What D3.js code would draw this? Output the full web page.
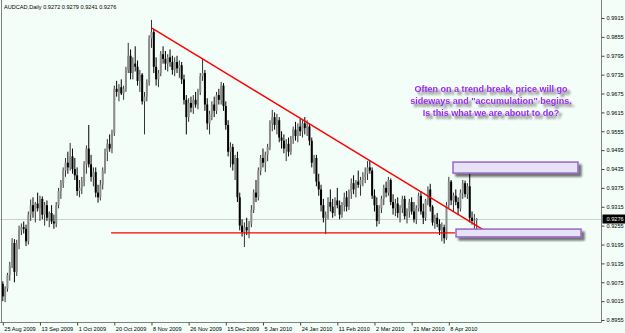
<!DOCTYPE html>
<html><head><meta charset="utf-8">
<script src="https://cdn.jsdelivr.net/npm/d3@7/dist/d3.min.js"></script>
<style>
html,body{margin:0;padding:0;background:#F4FEF9;}
svg{display:block;}
text{font-family:"Liberation Sans",Arial,sans-serif;}
</style></head>
<body>
<svg id="chart" width="625" height="333"></svg>
<script>
// ---- data (AUDCAD daily bars, index 0 = 25 Aug 2009) ----
const opens = [.9070,.9030,.9055,.9098,.9130,.9200,.9108,.9195,.9240,.9250,.9245,.9205,.9290,.9320,.9300,.9325,.9310,.9340,.9290,.9320,
.9280,.9295,.9268,.9262,.9320,.9365,.9390,.9430,.9455,.9440,.9475,.9435,.9415,.9365,.9375,.9395,.9450,.9500,.9450,.9410,
.9425,.9360,.9345,.9385,.9430,.9490,.9515,.9500,.9550,.9690,.9680,.9695,.9675,.9690,.9750,.9795,.9740,.9770,.9760,.9715,
.9735,.9650,.9665,.9710,.9850,.9870,.9760,.9720,.9740,.9800,.9785,.9770,.9790,.9775,.9750,.9775,.9755,.9765,.9720,.9655,
.9600,.9645,.9630,.9655,.9640,.9680,.9730,.9740,.9640,.9580,.9610,.9640,.9620,.9670,.9655,.9700,.9635,.9575,.9490,.9505,
.9450,.9470,.9345,.9255,.9235,.9250,.9240,.9262,.9305,.9360,.9345,.9430,.9470,.9455,.9480,.9505,.9580,.9600,.9575,.9590,
.9535,.9525,.9500,.9515,.9490,.9530,.9560,.9540,.9570,.9555,.9580,.9565,.9570,.9525,.9455,.9470,.9395,.9370,.9320,.9280,
.9290,.9330,.9315,.9295,.9335,.9320,.9290,.9320,.9345,.9315,.9360,.9390,.9370,.9395,.9385,.9400,.9410,.9420,.9440,.9430,
.9350,.9320,.9270,.9310,.9340,.9375,.9360,.9400,.9330,.9310,.9325,.9295,.9310,.9340,.9285,.9300,.9330,.9300,.9275,.9310,
.9350,.9300,.9280,.9335,.9370,.9315,.9265,.9280,.9260,.9240,.9250,.9215,.9320,.9395,.9335,.9350,.9330,.9310,.9360,.9390,
.9355,.9380,.9280,.9270,.9272];
const highs = [.9078,.9062,.9105,.9140,.9215,.9212,.9210,.9255,.9262,.9268,.9258,.9300,.9338,.9345,.9330,.9360,.9350,.9348,.9330,.9335,
.9300,.9320,.9290,.9330,.9375,.9400,.9440,.9470,.9490,.9518,.9500,.9470,.9440,.9400,.9410,.9460,.9510,.9575,.9480,.9440,
.9440,.9385,.9400,.9440,.9500,.9530,.9545,.9560,.9700,.9715,.9705,.9720,.9700,.9760,.9836,.9815,.9790,.9825,.9780,.9750,
.9740,.9680,.9720,.9860,.9909,.9880,.9790,.9750,.9810,.9825,.9810,.9800,.9815,.9795,.9790,.9795,.9780,.9775,.9735,.9670,
.9660,.9665,.9670,.9680,.9690,.9740,.9785,.9750,.9660,.9620,.9650,.9665,.9680,.9690,.9712,.9708,.9650,.9590,.9520,.9515,
.9480,.9490,.9360,.9275,.9265,.9280,.9270,.9320,.9370,.9400,.9440,.9480,.9500,.9490,.9515,.9590,.9623,.9615,.9610,.9600,
.9555,.9545,.9530,.9535,.9540,.9570,.9585,.9580,.9595,.9590,.9600,.9590,.9580,.9535,.9480,.9480,.9420,.9385,.9340,.9300,
.9345,.9370,.9340,.9345,.9375,.9335,.9330,.9360,.9365,.9370,.9405,.9415,.9400,.9430,.9410,.9425,.9440,.9460,.9462,.9440,
.9370,.9345,.9320,.9350,.9385,.9395,.9410,.9405,.9355,.9340,.9345,.9320,.9350,.9350,.9310,.9340,.9345,.9330,.9320,.9360,
.9365,.9325,.9340,.9380,.9388,.9320,.9290,.9295,.9275,.9265,.9258,.9330,.9410,.9400,.9360,.9370,.9345,.9370,.9400,.9398,
.9390,.9425,.9300,.9292,.9279];
const lows = [.9015,.9012,.9045,.9080,.9120,.9075,.9095,.9180,.9225,.9230,.9190,.9195,.9270,.9280,.9265,.9300,.9270,.9275,.9255,.9270,
.9250,.9260,.9245,.9250,.9310,.9340,.9375,.9410,.9420,.9430,.9420,.9400,.9350,.9345,.9355,.9380,.9420,.9440,.9395,.9380,
.9345,.9328,.9335,.9370,.9420,.9460,.9490,.9485,.9540,.9665,.9650,.9670,.9655,.9680,.9740,.9720,.9720,.9745,.9700,.9680,
.9640,.9545,.9650,.9700,.9820,.9740,.9700,.9695,.9730,.9770,.9750,.9745,.9760,.9735,.9730,.9740,.9725,.9705,.9640,.9545,
.9585,.9615,.9610,.9630,.9625,.9670,.9715,.9620,.9560,.9545,.9590,.9600,.9610,.9640,.9640,.9620,.9560,.9475,.9440,.9430,
.9400,.9330,.9240,.9220,.9187,.9225,.9215,.9250,.9295,.9330,.9335,.9415,.9440,.9425,.9460,.9495,.9555,.9560,.9545,.9520,
.9500,.9485,.9460,.9475,.9480,.9515,.9525,.9520,.9540,.9535,.9545,.9540,.9510,.9440,.9420,.9380,.9350,.9300,.9265,.9228,
.9275,.9300,.9280,.9285,.9310,.9275,.9280,.9300,.9300,.9305,.9340,.9355,.9345,.9375,.9350,.9380,.9390,.9400,.9420,.9340,
.9300,.9252,.9260,.9295,.9320,.9345,.9350,.9320,.9290,.9285,.9280,.9265,.9295,.9275,.9262,.9280,.9290,.9265,.9260,.9300,
.9290,.9260,.9270,.9320,.9300,.9255,.9245,.9250,.9225,.9205,.9198,.9210,.9310,.9320,.9300,.9320,.9290,.9300,.9340,.9345,
.9340,.9265,.9258,.9245,.9241];
const closes = [.9030,.9055,.9098,.9130,.9200,.9108,.9195,.9240,.9250,.9245,.9205,.9290,.9320,.9300,.9325,.9310,.9340,.9290,.9320,.9280,
.9295,.9268,.9262,.9320,.9365,.9390,.9430,.9455,.9440,.9475,.9435,.9415,.9365,.9375,.9395,.9450,.9500,.9450,.9410,.9425,
.9360,.9345,.9385,.9430,.9490,.9515,.9500,.9550,.9690,.9680,.9695,.9675,.9690,.9750,.9795,.9740,.9770,.9760,.9715,.9735,
.9650,.9665,.9710,.9850,.9870,.9760,.9720,.9740,.9800,.9785,.9770,.9790,.9775,.9750,.9775,.9755,.9765,.9720,.9655,.9600,
.9645,.9630,.9655,.9640,.9680,.9730,.9740,.9640,.9580,.9610,.9640,.9620,.9670,.9655,.9700,.9635,.9575,.9490,.9505,.9450,
.9470,.9345,.9255,.9235,.9250,.9240,.9262,.9305,.9360,.9345,.9430,.9470,.9455,.9480,.9505,.9580,.9600,.9575,.9590,.9535,
.9525,.9500,.9515,.9490,.9530,.9560,.9540,.9570,.9555,.9580,.9565,.9570,.9525,.9455,.9470,.9395,.9370,.9320,.9280,.9290,
.9330,.9315,.9295,.9335,.9320,.9290,.9320,.9345,.9315,.9360,.9390,.9370,.9395,.9385,.9400,.9410,.9420,.9440,.9430,.9350,
.9320,.9270,.9310,.9340,.9375,.9360,.9400,.9330,.9310,.9325,.9295,.9310,.9340,.9285,.9300,.9330,.9300,.9275,.9310,.9350,
.9300,.9280,.9335,.9370,.9315,.9265,.9280,.9260,.9240,.9250,.9215,.9320,.9395,.9335,.9350,.9330,.9310,.9360,.9390,.9355,
.9380,.9280,.9270,.9272,.9276];

const dateTickIndex = [0,16,32,48,64,80,96,112,128,144,160,176,192];
const dateTickLabels = ["25 Aug 2009","13 Sep 2009","1 Oct 2009","20 Oct 2009","8 Nov 2009","26 Nov 2009","15 Dec 2009",
  "5 Jan 2010","24 Jan 2010","11 Feb 2010","2 Mar 2010","21 Mar 2010","8 Apr 2010"];
const priceTicks = [0.9915,0.9855,0.9795,0.9735,0.9675,0.9615,0.9555,0.9495,0.9435,0.9375,0.9315,0.9255,0.9195,0.9135,0.9075,0.9015,0.8955];

const symbolName = "AUDCAD,Daily";
// drawn objects (bar index, price)
const trendLine = [[64.2, 0.9883],[207.1, 0.9241]];
const supportLine = [[46.6, 0.9232],[194.7, 0.9232]];
const boxes = [[193.8, 0.9457, 247.6, 0.9422],[195.1, 0.9244, 248.9, 0.9219]];
const noteLines = ["Often on a trend break, price will go","sideways and \"accumulation\" begins.","Is this what we are about to do?"];
const notePrices = [0.9680, 0.9642, 0.9603];
const noteIndex = 210.2;

// ---- scales ----
const n = closes.length;
const x = d3.scaleLinear().domain([0, 204]).range([2.8, 2.8 + 204*2.323]);
const y = d3.scaleLinear().domain([0.8955, 0.9915]).range([320, 18]);
const fmt = d3.format(".4f");

const svg = d3.select("#chart");
const W = 625, H = 333, axisX = 601.5, axisY = 322.5;

const defs = svg.append("defs");
const sh = defs.append("filter").attr("id","shadow").attr("x","-10%").attr("y","-30%").attr("width","130%").attr("height","190%");
sh.append("feGaussianBlur").attr("in","SourceAlpha").attr("stdDeviation",1).attr("result","b");
sh.append("feOffset").attr("in","b").attr("dx",2.5).attr("dy",2.5).attr("result","o");
sh.append("feComponentTransfer").attr("in","o").attr("result","o2")
  .append("feFuncA").attr("type","linear").attr("slope",0.55);
const m = sh.append("feMerge"); m.append("feMergeNode").attr("in","o2"); m.append("feMergeNode").attr("in","SourceGraphic");

svg.append("rect").attr("width",W).attr("height",H).attr("fill","#F4FEF9");

// bid line
svg.append("line").attr("x1",0).attr("x2",axisX).attr("y1",Math.round(y(closes[n-1]))+0.5).attr("y2",Math.round(y(closes[n-1]))+0.5)
  .attr("stroke","#CFCFCF").attr("stroke-width",1);

// candles
const bars = d3.range(n);
const g = svg.append("g");
g.selectAll("line.wick").data(bars).join("line").attr("class","wick")
  .attr("x1", i=>x(i)).attr("x2", i=>x(i))
  .attr("y1", i=>y(highs[i])).attr("y2", i=>y(lows[i]))
  .attr("stroke", i=> closes[i]>=opens[i] ? "#333" : "#000").attr("stroke-width",1);
g.selectAll("rect.body").data(bars).join("rect").attr("class","body")
  .attr("x", i=>x(i)-1).attr("width",2)
  .attr("y", i=>y(Math.max(opens[i],closes[i])))
  .attr("height", i=>Math.max(1, Math.abs(y(opens[i])-y(closes[i]))))
  .attr("fill", i=> closes[i]>=opens[i] ? "#8c8c8c" : "#000");

// red lines
const lineGen = d3.line().x(d=>x(d[0])).y(d=>y(d[1]));
svg.append("path").attr("d", lineGen(trendLine)).attr("stroke","#FF0000").attr("stroke-width",1.4).attr("fill","none");
svg.append("path").attr("d", lineGen(supportLine)).attr("stroke","#FF0000").attr("stroke-width",1.2).attr("fill","none");

// boxes
svg.selectAll("rect.box").data(boxes).join("rect").attr("class","box")
  .attr("x", d=>x(d[0])).attr("y", d=>y(d[1]))
  .attr("width", d=>x(d[2])-x(d[0])).attr("height", d=>y(d[3])-y(d[1]))
  .attr("fill","#E8E2F6").attr("stroke","#9966CC").attr("stroke-width",1.5)
  .attr("filter","url(#shadow)");

// note text
svg.selectAll("text.note").data(noteLines).join("text").attr("class","note")
  .attr("x", x(noteIndex)).attr("y", (d,i)=>y(notePrices[i]))
  .attr("text-anchor","middle").attr("font-size",9).attr("font-weight","bold")
  .attr("fill","#9A2EF0").attr("filter","url(#shadow)").text(d=>d);

// frame lines
svg.append("line").attr("x1",axisX).attr("x2",axisX).attr("y1",0).attr("y2",axisY).attr("stroke","#808080").attr("stroke-width",1);
svg.append("line").attr("x1",0).attr("x2",axisX).attr("y1",axisY).attr("y2",axisY).attr("stroke","#808080").attr("stroke-width",1);
svg.append("line").attr("x1",1.5).attr("x2",1.5).attr("y1",0).attr("y2",axisY).attr("stroke","#808080").attr("stroke-width",1);

// price axis
const ya = svg.append("g").attr("transform",`translate(${axisX},0)`)
  .call(d3.axisRight(y).tickValues(priceTicks).tickSize(3).tickSizeOuter(0).tickFormat(fmt));
ya.select(".domain").remove();
ya.selectAll("line").attr("stroke","#444");
ya.selectAll("text").attr("font-size",5.6).attr("fill","#000").attr("x",5).attr("font-family","Liberation Sans, Arial, sans-serif");

// current price marker
const cy = y(closes[n-1]);
svg.append("rect").attr("x",axisX+1).attr("y",cy-4.5).attr("width",W-axisX-1).attr("height",9).attr("fill","#000");
svg.append("text").attr("x",axisX+5).attr("y",cy).attr("dy","0.33em").attr("font-size",5.6).attr("fill","#fff").text(fmt(closes[n-1]));

// time axis
const xa = svg.append("g").attr("transform",`translate(0,${axisY})`)
  .call(d3.axisBottom(x).tickValues(dateTickIndex).tickSize(3).tickSizeOuter(0).tickFormat((d,i)=>dateTickLabels[i]));
xa.select(".domain").remove();
xa.selectAll("line").attr("stroke","#444");
xa.selectAll("text").attr("font-size",5.6).attr("fill","#000").attr("text-anchor","start").attr("x",1).attr("y",3).attr("dy","0.9em")
  .attr("font-family","Liberation Sans, Arial, sans-serif");

// title
svg.append("text").attr("x",4).attr("y",8.5).attr("font-size",5.6).attr("fill","#000")
  .text(`${symbolName}  ${fmt(opens[n-1])} ${fmt(highs[n-1])} ${fmt(lows[n-1])} ${fmt(closes[n-1])}`);
</script>
</body></html>
